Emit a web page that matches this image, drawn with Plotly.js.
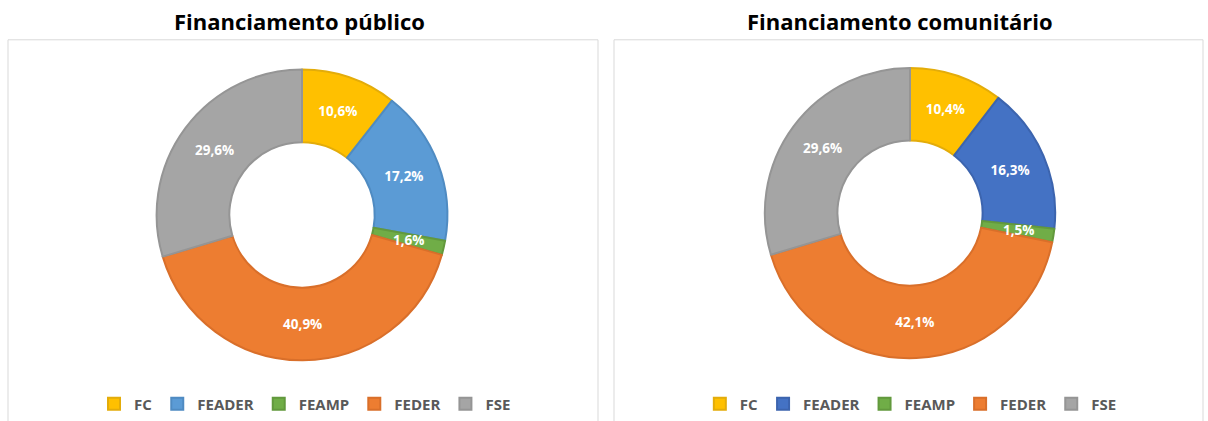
<!DOCTYPE html>
<html>
<head>
<meta charset="utf-8">
<script src="https://cdn.plot.ly/plotly-3.0.1.min.js"></script>
<style>
html,body{margin:0;padding:0;background:#fff;}
#wrap{width:1208px;height:421px;display:flex;overflow:hidden;}
.panel{width:604px;height:421px;}
</style>
</head>
<body>
<div id="wrap"><div id="left" class="panel"></div><div id="right" class="panel"></div></div>
<script>
const categories = ['FC', 'FEADER', 'FEAMP', 'FEDER', 'FSE'];
const publicoValues = [10.6, 17.2, 1.6, 40.9, 29.6];
const comunitarioValues = [10.4, 16.3, 1.5, 42.1, 29.6];
const titles = ['Financiamento público', 'Financiamento comunitário'];

const colorsLeft = ['#FFC000', '#5B9BD5', '#70AD47', '#ED7D31', '#A5A5A5'];
const colorsRight = ['#FFC000', '#4472C4', '#70AD47', '#ED7D31', '#A5A5A5'];
const edgeLeft = ['#E3AC0A', '#4F8BC2', '#62993D', '#D96F2A', '#959595'];
const edgeRight = ['#E3AC0A', '#3C64AE', '#62993D', '#D96F2A', '#959595'];

const fmt = v => v.toFixed(1).replace('.', ',') + '%';
const FONT = '"Open Sans", sans-serif';
const W = 604, H = 421, HOLE = 0.5, SMALL = 3, LABEL_SIZE = 13.5;

function draw(div, values, colors, edges, domain, title, titleX, legendX, box) {
  const total = values.reduce((a, b) => a + b, 0);
  const trace = {
    type: 'pie',
    labels: categories,
    values: values,
    text: values.map(fmt),
    textinfo: 'text',
    hoverinfo: 'label+text',
    textposition: values.map(v => v < SMALL ? 'none' : 'inside'),
    insidetextorientation: 'horizontal',
    textfont: {family: FONT, size: LABEL_SIZE, color: '#FFFFFF', weight: 'bold'},
    hole: HOLE,
    sort: false,
    direction: 'clockwise',
    rotation: 0,
    marker: {colors: colors, line: {color: edges, width: 2}},
    domain: domain,
    showlegend: true
  };
  // labels for thin slices, placed at the middle of the ring at the slice's mid-angle
  const cx = (domain.x[0] + domain.x[1]) / 2, cy = (domain.y[0] + domain.y[1]) / 2;
  const R = Math.min((domain.x[1] - domain.x[0]) * W, (domain.y[1] - domain.y[0]) * H) / 2;
  const rMid = R * (1 + HOLE) / 2;
  const smallAnn = [];
  let cum = 0;
  values.forEach(v => {
    const th = 2 * Math.PI * (cum + v / 2) / total;
    if (v < SMALL) {
      smallAnn.push({text: fmt(v), xref: 'paper', yref: 'paper',
        x: cx + rMid * Math.sin(th) / W, y: cy + rMid * Math.cos(th) / H,
        xanchor: 'center', yanchor: 'middle', showarrow: false,
        font: {family: FONT, size: LABEL_SIZE, color: '#FFFFFF', weight: 'bold'}});
    }
    cum += v;
  });
  const layout = {
    width: W, height: H,
    margin: {l: 0, r: 0, t: 0, b: 0},
    paper_bgcolor: '#FFFFFF',
    font: {family: FONT},
    legend: {orientation: 'h', x: legendX, y: 1 - 406 / H, xanchor: 'center', yanchor: 'middle',
      font: {family: FONT, size: 15, color: '#595959', weight: 'bold'},
      bgcolor: 'rgba(0,0,0,0)', itemwidth: 30, traceorder: 'normal'},
    shapes: [{type: 'rect', xref: 'paper', yref: 'paper', x0: box[0] / W, x1: box[1] / W, y0: -0.02, y1: 1 - 40 / H,
      line: {color: '#D9D9D9', width: 1}, fillcolor: 'rgba(0,0,0,0)', layer: 'below'}],
    annotations: [{text: title, xref: 'paper', yref: 'paper', x: titleX / W, y: 1 - 21 / H,
      xanchor: 'center', yanchor: 'middle', showarrow: false,
      font: {family: FONT, size: 22, color: '#000000', weight: 'bold'}}].concat(smallAnn)
  };
  Plotly.newPlot(div, [trace], layout, {displayModeBar: false, staticPlot: true});
}

draw('left', publicoValues, colorsLeft, edgeLeft, {x: [156 / W, 448 / W], y: [0.140, 0.834]},
  titles[0], 299, 0.505, [8, 598]);
draw('right', comunitarioValues, colorsRight, edgeRight, {x: [160 / W, 452 / W], y: [0.145, 0.838]},
  titles[1], 296, 0.508, [10, 599]);
</script>
</body>
</html>
